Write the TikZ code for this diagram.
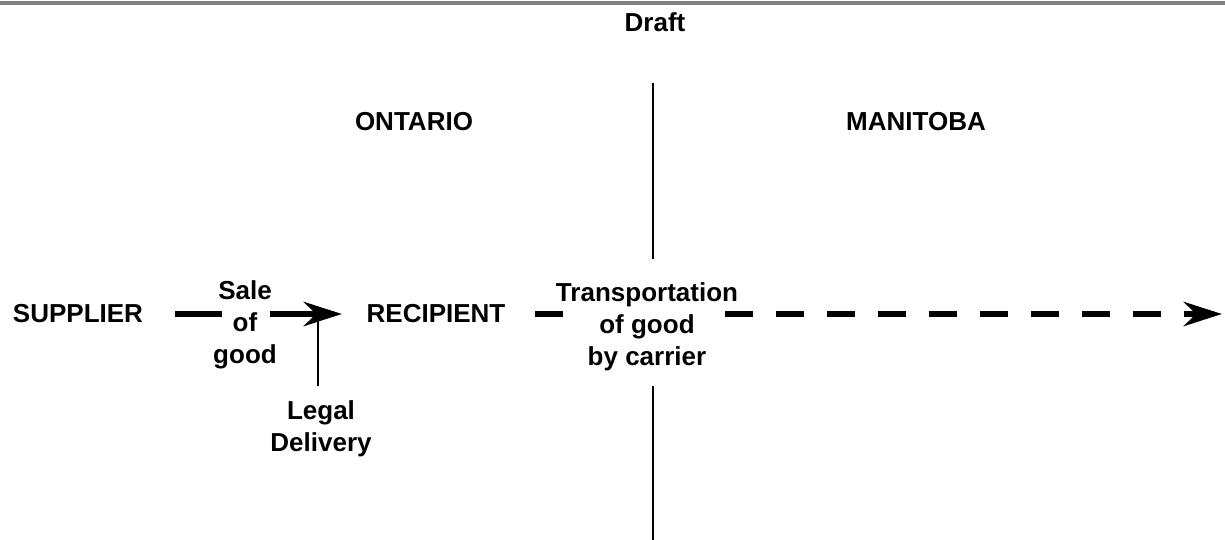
\documentclass[tikz,border=0pt]{standalone}
\usepackage{fontspec}
\setmainfont{Liberation Sans}
\usetikzlibrary{arrows.meta}

\begin{document}
\begin{tikzpicture}[x=0.02cm, y=-0.02cm]
        \tikzset{
          lbl/.style={font=\bfseries\fontsize{14.8}{18.2}\selectfont, align=center, inner sep=0pt},
          heavy/.style={line width=3.7pt},
          gapline/.style={dash pattern=on 0.56cm off 0.46cm},
          headtip/.style={-{Stealth[length=0.76cm, width=0.48cm, inset=0.24cm]}},
          border/.style={line width=1.1pt}
        }
        \useasboundingbox (0,0) rectangle (1225,540);

        % Draw the top rule
        \coordinate (ruleL) at (0,3);
        \coordinate (ruleR) at (1225,3);
        \draw[gray, line width=2pt] (ruleL) -- (ruleR);

        % Add title and province labels
        \node[lbl] (draft) at (655,22) {Draft};
        \node[lbl] (ontario) at (414,122) {ONTARIO};
        \node[lbl] (manitoba) at (916,122) {MANITOBA};

        % Draw the border between provinces
        \coordinate (borderA) at (653,83);
        \coordinate (borderB) at (653,259);
        \coordinate (borderC) at (653,386);
        \coordinate (borderD) at (653,540);
        \draw[border] (borderA) -- (borderB);
        \draw[border] (borderC) -- (borderD);

        % Add parties
        \node[lbl] (supplier) at (78,314) {SUPPLIER};
        \node[lbl] (recipient) at (436,314) {RECIPIENT};

        % Add flow labels
        \node[lbl] (sale) at (245,325) {Sale\\of\\good};
        \node[lbl] (transport) at (647,327) {Transportation\\of good\\by carrier};
        \node[lbl] (legal) at (321,429) {Legal\\Delivery};

        % Draw the sale arrow
        \coordinate (saleA) at (175,314);
        \coordinate (saleB) at (222,314);
        \coordinate (saleC) at (270,314);
        \coordinate (saleTip) at (342,314);
        \draw[heavy] (saleA) -- (saleB);
        \draw[heavy, headtip] (saleC) -- (saleTip);

        % Legal delivery marker
        \coordinate (legalFoot) at (318,386);
        \coordinate (legalTop) at (318,314);
        \draw[border] (legalFoot) -- (legalTop);

        % Draw the transport arrow
        \coordinate (trA) at (535,314);
        \coordinate (trB) at (563,314);
        \coordinate (trC) at (725,314);
        \coordinate (trTip) at (1222,314);
        \draw[heavy] (trA) -- (trB);
        \draw[heavy, gapline, headtip] (trC) -- (trTip);
    \end{tikzpicture}
\end{document}
